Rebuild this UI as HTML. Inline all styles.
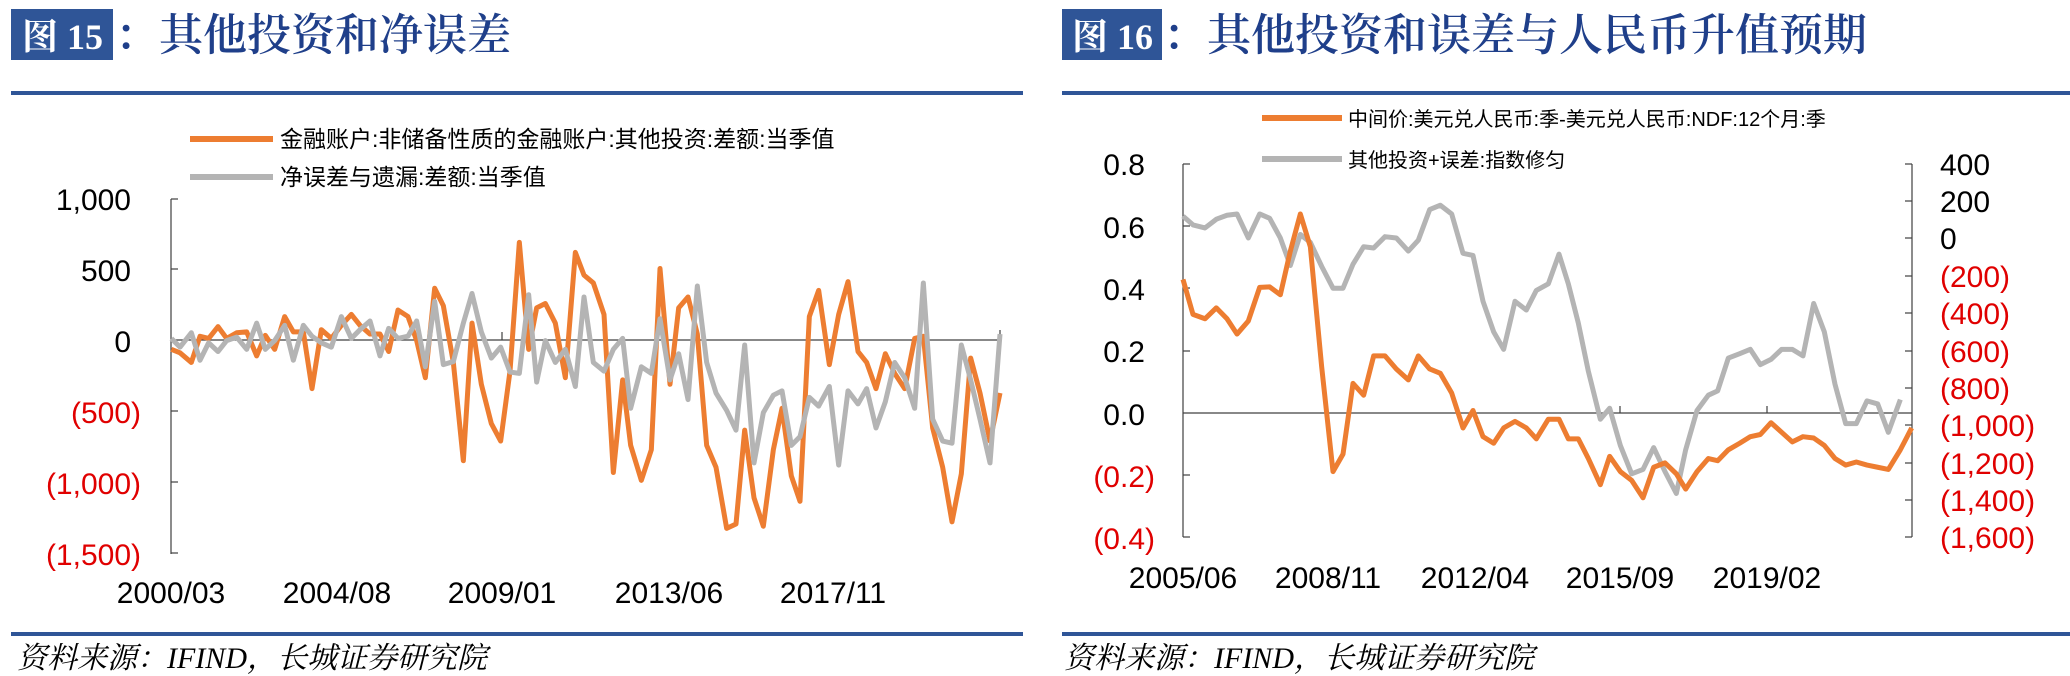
<!DOCTYPE html>
<html><head><meta charset="utf-8"><style>
html,body{margin:0;padding:0;background:#fff}
svg{display:block}
.t{font-family:"Liberation Sans","Noto Sans CJK SC",sans-serif}
.tk{font-size:30px;fill:#000}
.r{fill:#e00000}
.lg{font-size:23px;fill:#000}
.ti{font-family:"Liberation Serif","Noto Serif CJK SC",serif;font-weight:bold}
.tc{font-family:"Liberation Serif","Noto Serif CJK SC",serif;font-weight:600}
.src{font-family:"Liberation Serif","Noto Serif CJK SC",serif;font-style:italic;font-size:30px;fill:#000}
</style></head><body>
<svg width="2070" height="676" viewBox="0 0 2070 676" xmlns="http://www.w3.org/2000/svg">
<!-- LEFT PANEL -->
<rect x="11" y="9" width="102" height="51" fill="#2f5597"/>
<text x="22" y="49" class="ti" font-size="36" fill="#fff">图 15</text>
<text x="115" y="50" class="tc" font-size="44" fill="#1f3f8a">：其他投资和净误差</text>
<rect x="11" y="91" width="1012" height="4" fill="#2f5597"/>
<rect x="11" y="632" width="1012" height="4" fill="#2f5597"/>
<text x="17" y="668" class="src">资料来源：IFIND，长城证券研究院</text>

<line x1="190" y1="139" x2="273" y2="139" stroke="#ED7D31" stroke-width="6"/>
<text x="280" y="147" class="t lg">金融账户:非储备性质的金融账户:其他投资:差额:当季值</text>
<line x1="190" y1="177" x2="273" y2="177" stroke="#B4B4B4" stroke-width="6"/>
<text x="280" y="185" class="t lg">净误差与遗漏:差额:当季值</text>

<g stroke="#404040" stroke-width="1.2">
<line x1="171" y1="199" x2="171" y2="554"/>
<line x1="171" y1="199" x2="178" y2="199"/><line x1="171" y1="269" x2="178" y2="269"/>
<line x1="171" y1="411" x2="178" y2="411"/><line x1="171" y1="482" x2="178" y2="482"/>
<line x1="171" y1="553" x2="178" y2="553"/>
<line x1="171" y1="340" x2="1000" y2="340"/>
<line x1="502" y1="332" x2="502" y2="340"/><line x1="1000" y1="330" x2="1000" y2="340"/>
</g>
<g class="t tk" text-anchor="end">
<text x="131" y="210">1,000</text><text x="131" y="281">500</text><text x="131" y="352">0</text>
<text x="141" y="423" class="r">(500)</text><text x="141" y="494" class="r">(1,000)</text><text x="141" y="565" class="r">(1,500)</text>
</g>
<g class="t tk" text-anchor="middle">
<text x="171" y="603">2000/03</text><text x="337" y="603">2004/08</text><text x="502" y="603">2009/01</text><text x="669" y="603">2013/06</text><text x="833" y="603">2017/11</text>
</g>
<g transform="scale(0.66667,0.43668)" fill="none" stroke-linejoin="round">
<polyline vector-effect="non-scaling-stroke" stroke="#ED7D31" stroke-width="5" points="257,800 270,808 287,830 300,770 313,775 327,748 340,775 355,762 370,760 385,815 398,768 412,800 427,725 440,760 455,760 468,890 482,755 497,775 512,745 527,720 540,745 555,765 570,765 583,805 597,710 612,725 625,780 638,865 652,660 665,700 680,830 695,1055 708,740 722,880 737,970 751,1010 765,850 779,555 793,800 805,705 818,695 833,740 848,865 863,578 876,630 890,648 906,720 920,1082 934,870 946,1020 962,1100 977,1030 990,615 1005,880 1018,705 1032,680 1046,765 1060,1020 1074,1070 1090,1210 1104,1200 1117,985 1131,1140 1145,1205 1160,1030 1173,935 1187,1090 1200,1148 1214,725 1228,665 1244,835 1258,720 1272,645 1287,805 1300,830 1314,890 1328,810 1342,855 1357,890 1372,775 1385,770 1399,980 1414,1070 1428,1195 1442,1085 1456,820 1470,900 1485,1010 1500,900"/>
<polyline vector-effect="non-scaling-stroke" stroke="#B4B4B4" stroke-width="5" points="257,775 270,795 287,762 300,825 313,785 327,805 340,780 355,772 370,800 385,740 398,800 412,780 427,745 440,825 455,745 468,770 482,785 497,795 512,725 527,775 540,755 555,735 570,815 583,752 597,775 612,770 625,735 638,840 652,690 665,835 680,828 695,740 708,672 722,760 737,820 751,795 765,852 779,855 793,675 805,875 818,780 833,830 848,800 863,885 876,680 890,830 906,850 920,800 934,775 946,935 962,840 977,855 990,730 1005,870 1018,810 1032,915 1046,655 1060,830 1074,900 1090,940 1104,985 1117,790 1131,1060 1145,945 1160,905 1173,895 1187,1020 1200,1000 1214,910 1228,930 1244,885 1258,1065 1272,895 1287,925 1300,890 1314,980 1328,920 1342,830 1357,865 1372,935 1385,648 1399,960 1414,1010 1428,1015 1442,790 1456,870 1470,960 1485,1060 1500,765"/>
</g>

<!-- RIGHT PANEL -->
<rect x="1062" y="9" width="100" height="51" fill="#2f5597"/>
<text x="1072" y="49" class="ti" font-size="36" fill="#fff">图 16</text>
<text x="1163" y="50" class="tc" font-size="44" fill="#1f3f8a">：其他投资和误差与人民币升值预期</text>
<rect x="1062" y="91" width="1008" height="4" fill="#2f5597"/>
<rect x="1062" y="632" width="1008" height="4" fill="#2f5597"/>
<text x="1064" y="668" class="src">资料来源：IFIND，长城证券研究院</text>

<line x1="1262" y1="118" x2="1342" y2="118" stroke="#ED7D31" stroke-width="6"/>
<text x="1348" y="126" class="t" font-size="20">中间价:美元兑人民币:季-美元兑人民币:NDF:12个月:季</text>
<line x1="1262" y1="159" x2="1342" y2="159" stroke="#B4B4B4" stroke-width="6"/>
<text x="1348" y="167" class="t" font-size="20">其他投资+误差:指数修匀</text>

<g stroke="#404040" stroke-width="1.2">
<line x1="1183" y1="164" x2="1183" y2="537"/>
<line x1="1912" y1="164" x2="1912" y2="537"/>
<line x1="1183" y1="413" x2="1912" y2="413"/>
<line x1="1620" y1="406" x2="1620" y2="413"/><line x1="1767" y1="406" x2="1767" y2="413"/>
</g>
<g stroke="#404040" stroke-width="1.2">
<line x1="1183" y1="164" x2="1190" y2="164"/><line x1="1183" y1="226" x2="1190" y2="226"/><line x1="1183" y1="288" x2="1190" y2="288"/><line x1="1183" y1="351" x2="1190" y2="351"/><line x1="1183" y1="475" x2="1190" y2="475"/><line x1="1183" y1="537" x2="1190" y2="537"/>
<line x1="1905" y1="164" x2="1912" y2="164"/><line x1="1905" y1="201" x2="1912" y2="201"/><line x1="1905" y1="238" x2="1912" y2="238"/><line x1="1905" y1="276" x2="1912" y2="276"/><line x1="1905" y1="313" x2="1912" y2="313"/><line x1="1905" y1="351" x2="1912" y2="351"/><line x1="1905" y1="388" x2="1912" y2="388"/><line x1="1905" y1="425" x2="1912" y2="425"/><line x1="1905" y1="463" x2="1912" y2="463"/><line x1="1905" y1="500" x2="1912" y2="500"/><line x1="1905" y1="537" x2="1912" y2="537"/>
</g>
<g class="t tk" text-anchor="end">
<text x="1145" y="175">0.8</text><text x="1145" y="238">0.6</text><text x="1145" y="300">0.4</text><text x="1145" y="362">0.2</text><text x="1145" y="425">0.0</text>
<text x="1155" y="487" class="r">(0.2)</text><text x="1155" y="549" class="r">(0.4)</text>
</g>
<g class="t tk">
<text x="1940" y="175">400</text><text x="1940" y="212">200</text><text x="1940" y="249">0</text>
<text x="1940" y="287" class="r">(200)</text><text x="1940" y="324" class="r">(400)</text><text x="1940" y="362" class="r">(600)</text><text x="1940" y="399" class="r">(800)</text><text x="1940" y="436" class="r">(1,000)</text><text x="1940" y="474" class="r">(1,200)</text><text x="1940" y="511" class="r">(1,400)</text><text x="1940" y="548" class="r">(1,600)</text>
</g>
<g class="t tk" text-anchor="middle">
<text x="1183" y="588">2005/06</text><text x="1328" y="588">2008/11</text><text x="1475" y="588">2012/04</text><text x="1620" y="588">2015/09</text><text x="1767" y="588">2019/02</text>
</g>
<g transform="translate(1035,0) scale(0.66667,0.43668)" fill="none" stroke-linejoin="round">
<polyline vector-effect="non-scaling-stroke" stroke="#B4B4B4" stroke-width="5" points="222,495 237,515 255,522 272,502 288,493 303,490 320,545 337,490 352,500 368,545 383,608 398,537 413,555 430,610 447,660 462,660 477,605 493,565 508,568 525,542 542,545 560,575 575,550 592,480 608,470 625,490 642,580 657,585 672,690 688,760 703,800 720,690 737,710 752,665 770,650 786,582 800,650 815,740 830,850 848,960 862,935 878,1020 895,1085 912,1075 928,1025 945,1080 962,1130 976,1030 993,940 1010,905 1024,895 1040,820 1057,810 1073,800 1088,835 1104,823 1120,800 1136,800 1152,815 1168,695 1184,760 1200,880 1216,970 1232,970 1248,918 1264,925 1280,990 1298,915"/>
<polyline vector-effect="non-scaling-stroke" stroke="#ED7D31" stroke-width="5" points="222,640 237,720 255,730 272,705 288,730 303,765 320,735 337,658 352,657 368,675 383,575 398,490 413,565 430,840 447,1080 462,1040 477,878 493,905 508,815 525,815 542,845 560,870 575,815 592,845 608,855 625,900 642,980 657,940 672,1000 688,1015 703,980 720,965 737,980 752,1005 770,960 786,960 800,1005 815,1005 830,1050 848,1110 862,1045 878,1080 895,1100 912,1140 928,1070 945,1060 962,1085 976,1120 993,1080 1010,1050 1024,1055 1040,1030 1057,1015 1073,1000 1088,995 1104,968 1120,990 1136,1012 1152,1000 1168,1003 1184,1020 1200,1050 1216,1065 1232,1058 1248,1065 1264,1070 1280,1075 1298,1030 1315,980"/>
</g>
</svg>
</body></html>
